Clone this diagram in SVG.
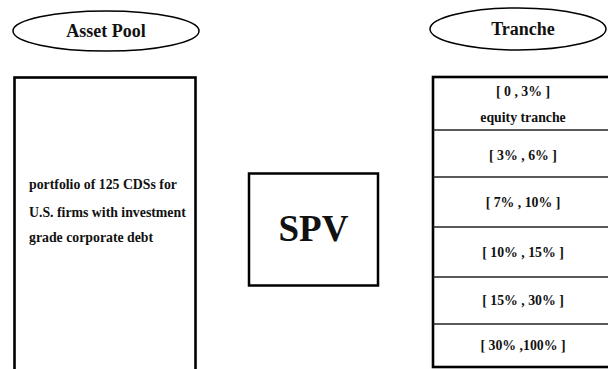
<svg xmlns="http://www.w3.org/2000/svg" width="608" height="369" viewBox="0 0 608 369">
<style>
.t{font-family:"Liberation Serif","Times New Roman",serif;font-weight:bold;fill:#111}
.box{fill:#fff;stroke:#000}
.div{stroke:#222;stroke-width:1.6}
</style>
<rect width="608" height="369" fill="#fff"/>
<g id="asset-pool-label">
<ellipse cx="106" cy="31" rx="93" ry="20" fill="#fff" stroke="#000" stroke-width="1.5"/>
<text class="t" x="106" y="37" font-size="18" text-anchor="middle">Asset Pool</text>
</g>
<g id="tranche-label">
<ellipse cx="518" cy="29" rx="88" ry="21" fill="#fff" stroke="#000" stroke-width="1.5"/>
<text class="t" x="523" y="35" font-size="18" text-anchor="middle">Tranche</text>
</g>
<g id="asset-pool">
<rect class="box" x="14.5" y="77.5" width="181" height="300" stroke-width="2.6"/>
<text class="t" font-size="13.8" x="29" y="189">portfolio of 125 CDSs for</text>
<text class="t" font-size="13.8" x="29" y="217">U.S. firms with investment</text>
<text class="t" font-size="13.8" x="29" y="242">grade corporate debt</text>
</g>
<g id="spv">
<rect class="box" x="249" y="173.5" width="129" height="112" stroke-width="2.5"/>
<text class="t" x="313.5" y="241" font-size="37" text-anchor="middle">SPV</text>
</g>
<g id="tranches">
<rect class="box" x="433" y="77" width="190" height="290" stroke-width="2.6"/>
<line class="div" x1="433" y1="130" x2="608" y2="130"/>
<line class="div" x1="433" y1="177" x2="608" y2="177"/>
<line class="div" x1="433" y1="227" x2="608" y2="227"/>
<line class="div" x1="433" y1="277" x2="608" y2="277"/>
<line class="div" x1="433" y1="324" x2="608" y2="324"/>
<g font-size="13.8" text-anchor="middle">
<text class="t" x="523" y="96">[ 0 , 3% ]</text>
<text class="t" x="523" y="122">equity tranche</text>
<text class="t" x="523" y="160">[ 3% , 6% ]</text>
<text class="t" x="523" y="207">[ 7% , 10% ]</text>
<text class="t" x="523" y="257">[ 10% , 15% ]</text>
<text class="t" x="523" y="305">[ 15% , 30% ]</text>
<text class="t" x="523" y="350">[ 30% ,100% ]</text>
</g>
</g>
<g id="connectors"></g>
</svg>
